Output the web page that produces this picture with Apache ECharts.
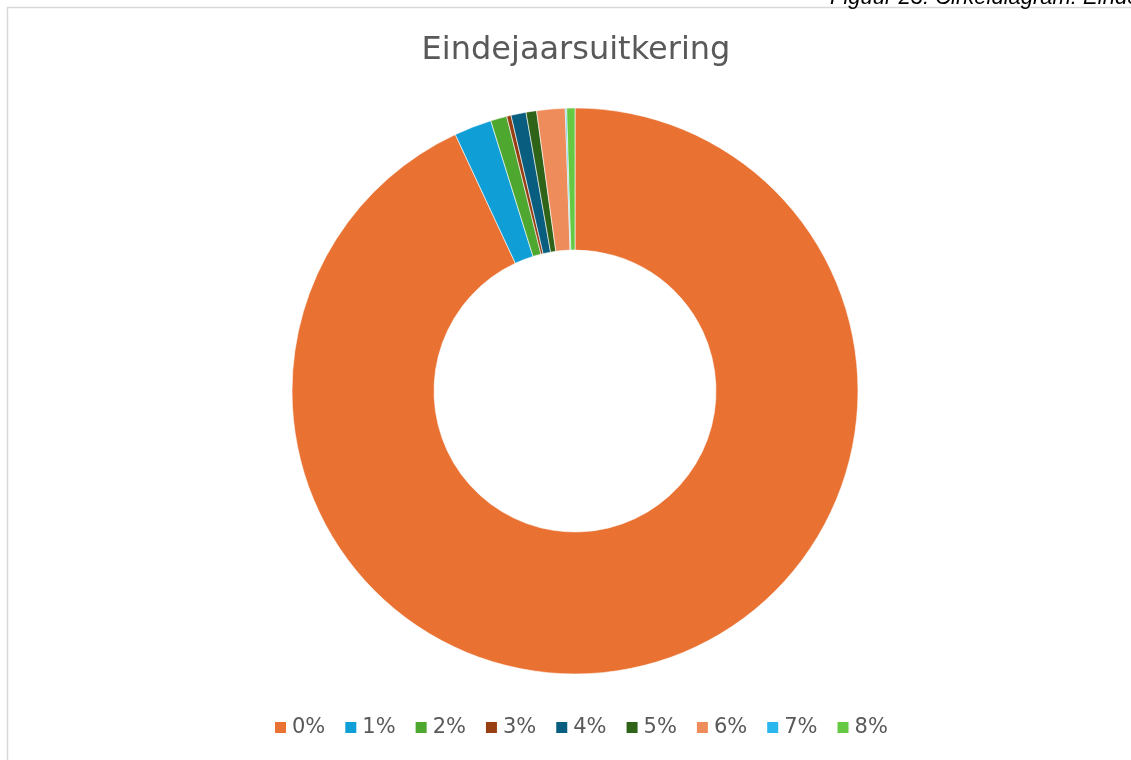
<!DOCTYPE html>
<html>
<head>
<meta charset="utf-8">
<title>Eindejaarsuitkering</title>
<script src="https://cdn.jsdelivr.net/npm/echarts@6/dist/echarts.min.js"></script>
<style>
  html, body { margin: 0; padding: 0; background: #fff; }
  #main { width: 1131px; height: 760px; }
</style>
</head>
<body>
<div id="main"></div>
<script>
var categories = ['0%', '1%', '2%', '3%', '4%', '5%', '6%', '7%', '8%'];
var shares = [93.06, 2.14, 0.93, 0.25, 0.86, 0.60, 1.62, 0.08, 0.47];
var colors = ['#E97132', '#0F9ED5', '#4EA72E', '#973E12', '#095E80', '#2E6318', '#EE8D5B', '#2BB6EE', '#66C944'];

var chartDom = document.getElementById('main');
var myChart = echarts.init(chartDom);
var option;

option = {
  backgroundColor: '#fff',
  animation: false,
  title: {
    text: 'Eindejaarsuitkering',
    left: 571,
    textAlign: 'center',
    top: 30,
    textStyle: {
      fontFamily: 'DejaVu Sans',
      fontSize: 32,
      fontWeight: 'normal',
      color: '#595959',
    },
  },
  graphic: [
    {
      type: 'rect',
      shape: { x: 7.5, y: 7.5, width: 1200, height: 800 },
      style: { fill: 'none', stroke: '#d9d9d9', lineWidth: 1.5 },
    },
    {
      type: 'text',
      x: 830,
      y: 9,
      style: {
        text: 'Figuur 23: Cirkeldiagram: Eindejaarsuitkering',
        fontFamily: 'Liberation Sans',
        fontStyle: 'italic',
        fontSize: 22,
        fill: '#000',
        verticalAlign: 'bottom',
      },
    },
  ],
  legend: {
    data: categories,
    top: 712,
    left: 268,
    icon: 'rect',
    itemWidth: 13,
    itemHeight: 13,
    itemGap: 18,
    textStyle: {
      fontFamily: 'DejaVu Sans',
      fontSize: 21,
      color: '#595959',
    },
  },
  series: [
    {
      name: 'Eindejaarsuitkering',
      type: 'pie',
      center: [575, 391],
      radius: [141, 283],
      startAngle: 90,
      clockwise: true,
      label: { show: false },
      labelLine: { show: false },
      itemStyle: {
        borderColor: '#fff',
        borderWidth: 0.6,
      },
      emphasis: { scale: false },
      data: categories.map(function (c, i) {
        return { name: c, value: shares[i], itemStyle: { color: colors[i] } };
      }),
    },
  ],
};

option && myChart.setOption(option);
</script>
</body>
</html>
